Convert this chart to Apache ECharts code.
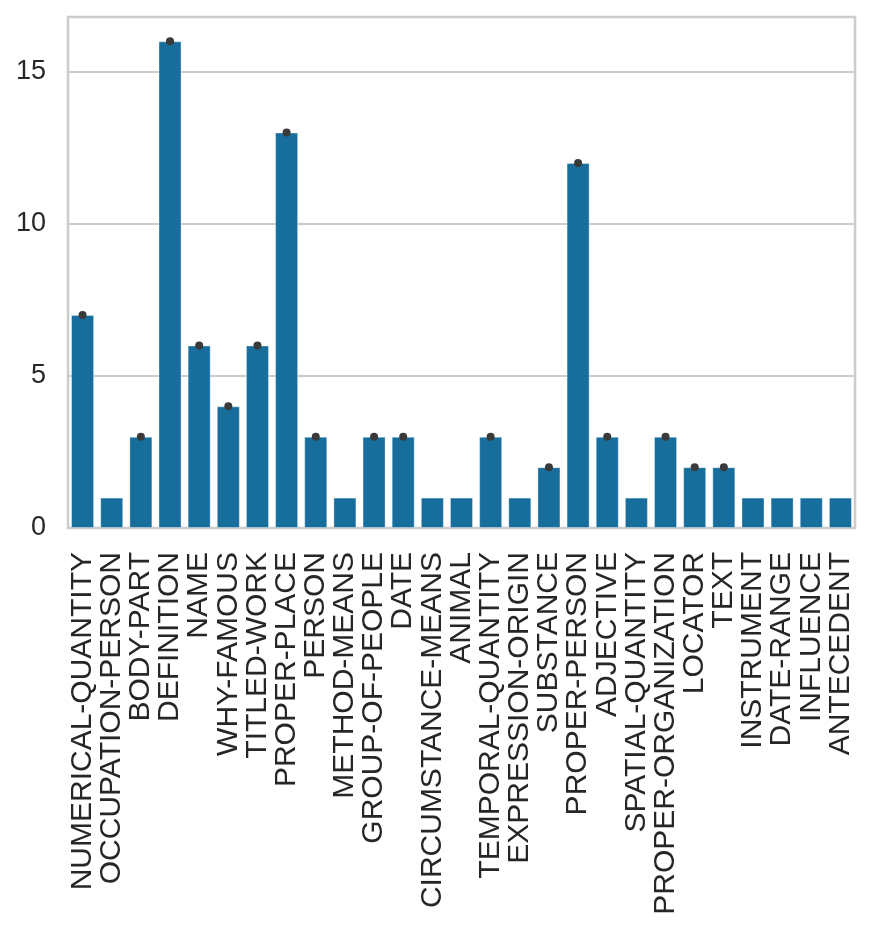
<!DOCTYPE html>
<html>
<head>
<meta charset="utf-8">
<script src="https://cdn.jsdelivr.net/npm/echarts@6/dist/echarts.min.js"></script>
<style>
  html, body { margin: 0; padding: 0; background: #fff; }
  #chart { width: 872px; height: 939px; }
</style>
</head>
<body>
<div id="chart"></div>
<script>
// categories (x axis) and counts
const categories = [
    'NUMERICAL-QUANTITY', 'OCCUPATION-PERSON', 'BODY-PART', 'DEFINITION', 'NAME',
    'WHY-FAMOUS', 'TITLED-WORK', 'PROPER-PLACE', 'PERSON', 'METHOD-MEANS',
    'GROUP-OF-PEOPLE', 'DATE', 'CIRCUMSTANCE-MEANS', 'ANIMAL', 'TEMPORAL-QUANTITY',
    'EXPRESSION-ORIGIN', 'SUBSTANCE', 'PROPER-PERSON', 'ADJECTIVE', 'SPATIAL-QUANTITY',
    'PROPER-ORGANIZATION', 'LOCATOR', 'TEXT', 'INSTRUMENT', 'DATE-RANGE',
    'INFLUENCE', 'ANTECEDENT'
];
const counts = [7, 1, 3, 16, 6, 4, 6, 13, 3, 1, 3, 3, 1, 1, 3, 1, 2, 12, 3, 1, 3, 2, 2, 1, 1, 1, 1];
const yTicks = [0, 5, 10, 15];

// error-bar dots only appear on bars above 1
const capDots = counts.map(v => (v > 1 ? v : '-'));

const chart = echarts.init(document.getElementById('chart'));

const option = {
    animation: false,
    textStyle: { fontFamily: 'Liberation Sans, Arial, sans-serif' },
    grid: {
        left: 68,
        right: 17,
        top: 17,
        bottom: 411,
        show: true,
        borderColor: '#cccccc',
        borderWidth: 2.5,
        backgroundColor: 'transparent'
    },
    xAxis: {
        type: 'category',
        data: categories,
        axisLine: { show: false },
        axisTick: { show: false },
        axisLabel: {
            interval: 0,
            rotate: 90,
            margin: 24,
            fontSize: 30,
            color: '#262626'
        }
    },
    yAxis: {
        type: 'value',
        min: 0,
        max: 16.8,
        interval: 5,
        axisLine: { show: false },
        axisTick: { show: false },
        axisLabel: {
            margin: 22,
            fontSize: 27,
            color: '#262626',
            formatter: v => (yTicks.includes(v) ? String(v) : '')
        },
        splitLine: {
            show: true,
            lineStyle: { color: '#cccccc', width: 2 }
        }
    },
    series: [
        {
            type: 'bar',
            data: counts,
            barWidth: '79%',
            itemStyle: {
                color: '#176e9d',
                borderColor: 'rgba(255,255,255,0.35)',
                borderWidth: 1
            }
        },
        {
            type: 'scatter',
            data: capDots,
            symbol: 'circle',
            symbolSize: 8,
            z: 5,
            itemStyle: { color: '#3a3a3a', opacity: 1 }
        }
    ]
};

chart.setOption(option);
</script>
</body>
</html>
